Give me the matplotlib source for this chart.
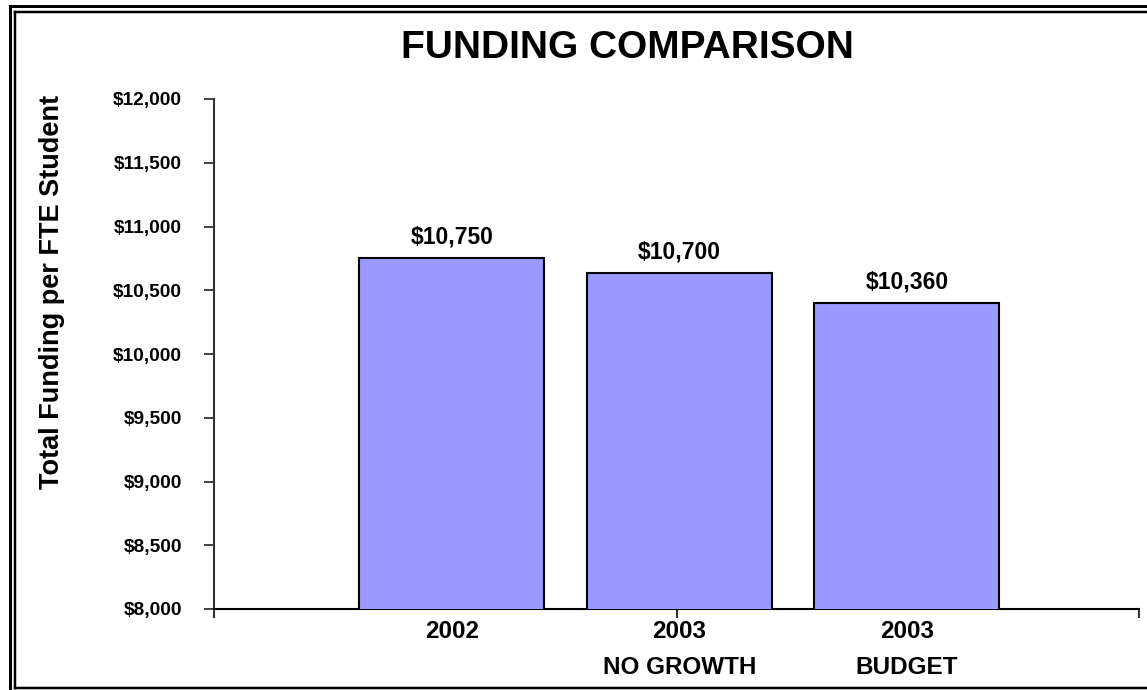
import matplotlib
matplotlib.use("Agg")
import matplotlib.pyplot as plt
from matplotlib.lines import Line2D
from matplotlib.ticker import FuncFormatter

plt.rcParams['font.family'] = ['Liberation Sans', 'DejaVu Sans']
plt.rcParams['font.weight'] = 'bold'

# ---- data ----
categories = ["2002", "2003\nNO GROWTH", "2003\nBUDGET"]
bar_values = [10750, 10635, 10400]
value_labels = ["$10,750", "$10,700", "$10,360"]
y_ticks = [8000, 8500, 9000, 9500, 10000, 10500, 11000, 11500, 12000]

W, H = 1147, 690
DPI = 100
fig = plt.figure(figsize=(W / DPI, H / DPI), dpi=DPI)
PX = 72.0 / DPI  # points per pixel

def fx(px):
    return px / W

def fy(py):
    return 1 - py / H

ax = fig.add_axes([fx(214), fy(609), fx(1139) - fx(214), fy(99) - fy(609)])

xpos = list(range(len(categories)))
ax.bar(xpos, bar_values, width=0.813, color="#9999FF", edgecolor="black",
       linewidth=1.5, zorder=3)

x0, x1 = -1.046, 3.02
ax.set_xlim(x0, x1)
ax.set_ylim(y_ticks[0], y_ticks[-1])

ax.set_yticks(y_ticks)
ax.yaxis.set_major_formatter(FuncFormatter(lambda v, p: "${:,.0f}".format(v)))
ax.tick_params(axis="y", direction="out", length=10 * PX, width=1.3, color="#333333",
               pad=22 * PX, labelsize=13.8)
for lab in ax.get_yticklabels():
    lab.set_fontweight("bold")

ax.set_xticks(xpos)
ax.set_xticklabels(categories, fontsize=17.5, fontweight="bold", linespacing=1.75)
ax.tick_params(axis="x", which="major", length=0, pad=11 * PX)
ax.set_xticks([x0, (x0 + x1) / 2, x1], minor=True)
ax.tick_params(axis="x", which="minor", direction="out", length=9 * PX, width=1.5, color="#333333")

for s in ["top", "right"]:
    ax.spines[s].set_visible(False)
ax.spines["left"].set_color("#333333")
ax.spines["left"].set_linewidth(1.5)
ax.spines["bottom"].set_color("black")
ax.spines["bottom"].set_linewidth(1.5)

for x, v, lab in zip(xpos, bar_values, value_labels):
    ax.annotate(lab, (x, v), xytext=(0, 21 * PX), textcoords="offset points",
                ha="center", va="center", fontsize=16.5, fontweight="bold")

fig.text(fx(627), fy(48), "FUNDING COMPARISON", ha="center", va="center",
         fontsize=28, fontweight="bold")
fig.text(fx(52), fy(292), "Total Funding per FTE Student", ha="center", va="center",
         rotation=90, fontsize=19.5, fontweight="bold")

# double frame (right and lower outer edges run off the picture)
def fline(xs, ys, lw):
    fig.add_artist(Line2D([fx(x) for x in xs], [fy(y) for y in ys], color="black",
                          linewidth=lw * PX, solid_capstyle="projecting"))

fline([9.5, W + 5], [6, 6], 3)
fline([9.5, 9.5], [6, H + 5], 3)
fline([14.5, W + 5], [11.5, 11.5], 2.5)
fline([14.5, 14.5], [11.5, 687.5], 2.5)
fline([14.5, W + 5], [687.5, 687.5], 2.5)

fig.savefig("out.png", dpi=DPI)
